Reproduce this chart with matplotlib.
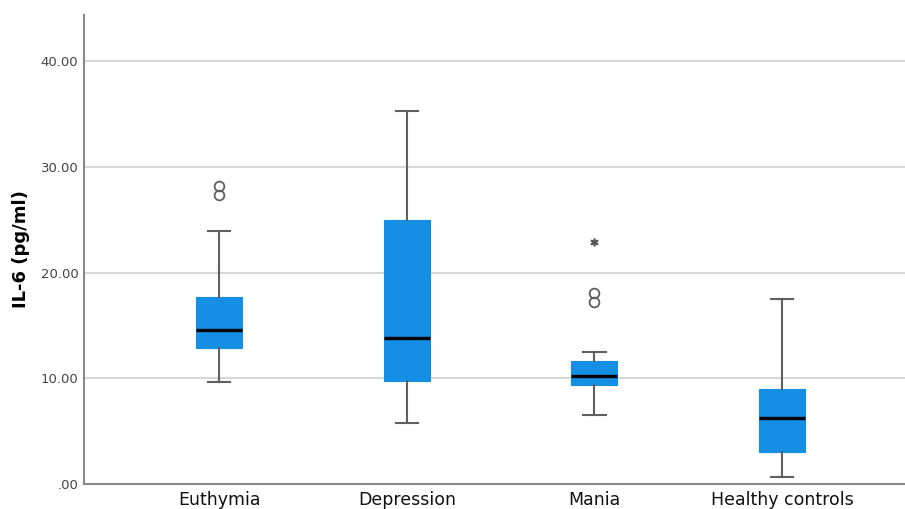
import matplotlib
matplotlib.use("Agg")
import matplotlib.pyplot as plt
from matplotlib.ticker import FuncFormatter

# Group labels and box statistics (pg/ml)
groups = ["Euthymia", "Depression", "Mania", "Healthy controls"]
medians = [14.6, 13.8, 10.2, 6.2]
q1 = [12.9, 9.7, 9.4, 3.0]
q3 = [17.7, 25.0, 11.6, 9.0]
whisker_low = [9.6, 5.8, 6.5, 0.7]
whisker_high = [23.9, 35.3, 12.5, 17.5]
outliers = [[27.3, 28.2], [], [17.2, 18.1], []]
extremes = [[], [], [22.9], []]

yticks = [0, 10, 20, 30, 40]

box_color = "#158fe4"
line_gray = "#5f5f5f"

stats = []
for i, name in enumerate(groups):
    stats.append(dict(label=name, med=medians[i], q1=q1[i], q3=q3[i],
                      whislo=whisker_low[i], whishi=whisker_high[i],
                      fliers=outliers[i]))

fig = plt.figure(figsize=(9.05, 5.09), dpi=100)
ax = fig.add_axes([0.0928, 0.0491, 0.9072, 0.9214])

positions = list(range(1, len(groups) + 1))
ax.bxp(stats, positions=positions, widths=0.245, patch_artist=True,
       boxprops=dict(facecolor=box_color, edgecolor=box_color, linewidth=0.8),
       medianprops=dict(color="black", linewidth=2.4),
       whiskerprops=dict(color=line_gray, linewidth=1.5),
       capprops=dict(color=line_gray, linewidth=1.5),
       capwidths=0.12,
       flierprops=dict(marker="o", markerfacecolor="none",
                       markeredgecolor=line_gray, markersize=7,
                       markeredgewidth=1.3),
       zorder=3)

# extreme values drawn as asterisks, SPSS style
for pos, vals in zip(positions, extremes):
    if vals:
        ax.plot([pos] * len(vals), vals, linestyle="none",
                marker=r"$*$", markersize=5, color="#555555", zorder=4)

ax.set_xlim(0.28, 4.655)
ax.set_ylim(0, 44.35)
ax.set_yticks(yticks)
ax.yaxis.set_major_formatter(
    FuncFormatter(lambda v, p: f"{v:.2f}".lstrip("0") if v < 1 else f"{v:.2f}"))
ax.grid(axis="y", color="#d8d8d8", linewidth=1.5, zorder=0)
ax.set_axisbelow(True)

for side in ["top", "right"]:
    ax.spines[side].set_visible(False)
for side in ["left", "bottom"]:
    ax.spines[side].set_color("#8a8a8a")
    ax.spines[side].set_linewidth(1.5)

ax.tick_params(axis="both", length=0)
ax.tick_params(axis="y", labelsize=9.5, labelcolor="#444444", pad=4)
ax.tick_params(axis="x", labelsize=12.5, labelcolor="#111111", pad=5)
ax.set_ylabel("IL-6 (pg/ml)", fontsize=13, fontweight="bold")
ax.yaxis.set_label_coords(-0.066, 0.5)

fig.savefig("out.png", dpi=100)
